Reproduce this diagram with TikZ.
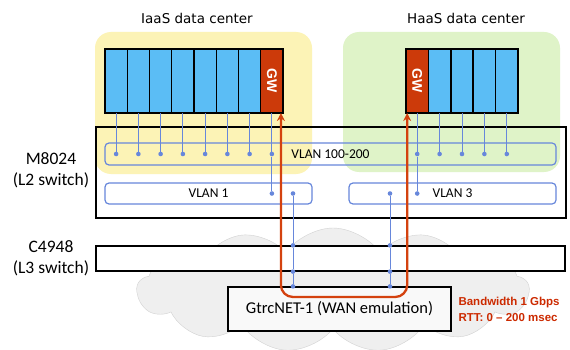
\documentclass[tikz,border=0pt]{standalone}
\usepackage{fontspec}
\setmainfont{Carlito}
\newfontfamily\titlefont{DejaVu Sans}
\newfontfamily\notefont{Liberation Sans}
\usetikzlibrary{positioning,arrows.meta,shapes.symbols}

\definecolor{srvblue}{HTML}{5BBDF5}
\definecolor{gwred}{HTML}{CC3A0A}
\definecolor{yellowbg}{HTML}{FCF3B6}
\definecolor{greenbg}{HTML}{DFF3C8}
\definecolor{linkblue}{HTML}{6787DB}
\definecolor{wanred}{HTML}{D4420F}
\definecolor{notered}{HTML}{CC2A00}
\definecolor{cloudgray}{HTML}{EFEFEF}

\tikzset{
    srv/.style={draw=black, line width=1.4pt, fill=srvblue, minimum width=22.3pt,
        minimum height=64pt, inner sep=0pt, outer sep=0pt},
    gwlabel/.style={rotate=-90, text=white, font=\notefont\bfseries\fontsize{14}{16}\selectfont},
    dc/.style={rounded corners=16pt, inner sep=0pt},
    title/.style={font=\titlefont\fontsize{13.5}{15}\selectfont},
    vlan/.style={draw=linkblue, line width=1.2pt, rounded corners=4pt, inner sep=0pt,
        font=\fontsize{13.5}{15}\selectfont},
    side/.style={align=center, font=\fontsize{17.5}{21}\selectfont},
    dot/.style={circle, fill=linkblue, inner sep=0pt, minimum size=4.6pt},
    link/.style={linkblue, line width=0.9pt},
    switch/.style={draw=black, line width=1.2pt, inner sep=0pt},
    wan/.style={wanred, line width=2.3pt, rounded corners=12pt},
    note/.style={text=notered, font=\notefont\bfseries\fontsize{11.5}{16}\selectfont, align=left}
}

\begin{document}
\begin{tikzpicture}[x=1pt, y=-1pt]
            \fill[white] (0, 0) rectangle (570, 350);
            \useasboundingbox (0, 0) rectangle (570, 350);

            % data centers
            \node[dc, fill=yellowbg, minimum width=217pt, minimum height=142pt] (iaas) at (203.5, 103) {};
            \node[dc, fill=greenbg, minimum width=217pt, minimum height=140pt] (haas) at (451.5, 102) {};
            \node[title] (iaastitle) at (197, 18) {IaaS data center};
            \node[title] (haastitle) at (466, 18) {HaaS data center};

            % servers
            \foreach \i in {1,...,7}
                \node[srv] (i\i) at ({105 + 22.25*(\i - 0.5)}, 81) {};
            \node[srv, fill=gwred] (igw) at (271.9, 81) {};
            \node[gwlabel] at (igw) {GW};
            \node[srv, fill=gwred] (hgw) at (417.2, 81) {};
            \node[gwlabel] at (hgw) {GW};
            \foreach \i in {1,...,4}
                \node[srv] (h\i) at ({406 + 22.4*(\i + 0.5)}, 81) {};

            % L2 switch
            \node[switch, minimum width=470pt, minimum height=91pt] (l2) at (331, 172.5) {};
            \node[vlan, minimum width=451pt, minimum height=22pt] (v100) at (330.5, 154) {VLAN 100-200};
            \node[vlan, minimum width=207pt, minimum height=21pt] (v1) at (208.5, 193.5) {VLAN 1};
            \node[vlan, minimum width=207pt, minimum height=21pt] (v3) at (452.5, 193.5) {VLAN 3};
            \node[side] (l2label) at (51, 170) {M8024\\(L2 switch)};

            % L3 switch and WAN emulator
            \node[cloud, cloud puffs=13, cloud puff arc=110, aspect=3.2, fill=cloudgray, draw=gray!35,
                minimum width=392pt, minimum height=124pt] (wancloud) at (333, 290) {};
            \node[switch, fill=white, minimum width=469pt, minimum height=25pt] (l3) at (330.5, 258.5) {};
            \node[side] (l3label) at (51, 258) {C4948\\(L3 switch)};
            \node[switch, fill=gray!5, minimum width=223pt, minimum height=44pt,
                font=\fontsize{16.5}{18}\selectfont] (gtrc) at (339.5, 309) {GtrcNET-1 (WAN emulation)};

            % server links
            \foreach \i in {1,...,7} {
                \node[dot] (di\i) at (i\i |- v100) {};
                \draw[link] (i\i) -- (di\i);
            }
            \node[dot] (digw) at (igw |- v100) {};
            \node[dot] (digw1) at (igw |- v1) {};
            \draw[link] (igw) -- (digw) -- (digw1);
            \foreach \i in {1,...,4} {
                \node[dot] (dh\i) at (h\i |- v100) {};
                \draw[link] (h\i) -- (dh\i);
            }
            \node[dot] (dhgw) at (hgw |- v100) {};
            \node[dot] (dhgw3) at (hgw |- v3) {};
            \draw[link] (hgw) -- (dhgw) -- (dhgw3);

            % uplinks
            \node[dot] (up1) at (293, 193.5) {};
            \node[dot] (up1a) at (up1 |- l3.north) {};
            \node[dot] (up1b) at (up1 |- l3.south) {};
            \node[dot] (up1c) at (up1 |- gtrc.north) {};
            \draw[link] (up1) -- (up1a) -- (up1b) -- (up1c);
            \node[dot] (up3) at (390, 193.5) {};
            \node[dot] (up3a) at (up3 |- l3.north) {};
            \node[dot] (up3b) at (up3 |- l3.south) {};
            \node[dot] (up3c) at (up3 |- gtrc.north) {};
            \draw[link] (up3) -- (up3a) -- (up3b) -- (up3c);

            % WAN path
            \coordinate (wanbottom) at (344, 297);
            \draw[wan, {Stealth[length=8pt, width=8pt]}-{Stealth[length=8pt, width=8pt]}]
                ([xshift=9pt]igw.south) |- (wanbottom) -| ([xshift=-10pt]hgw.south);
            \node[note, anchor=west] (wannote) at (455, 309) {Bandwidth 1 Gbps\\RTT: 0 – 200 msec};
        \end{tikzpicture}
\end{document}
